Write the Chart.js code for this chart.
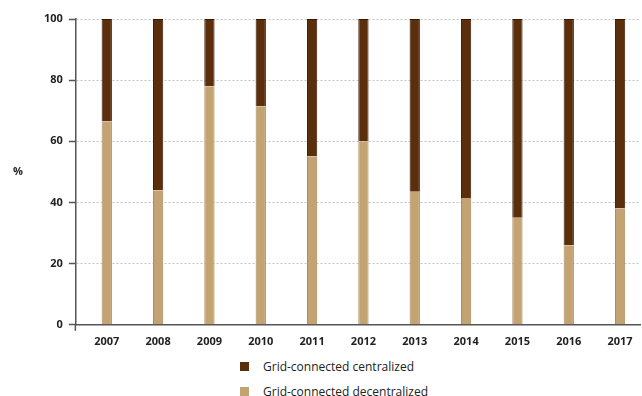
<!DOCTYPE html>
<html>
<head>
<meta charset="utf-8">
<script src="https://cdn.jsdelivr.net/npm/chart.js@4.4.0/dist/chart.umd.min.js"></script>
<style>
  html, body { margin: 0; padding: 0; background: #fff; overflow: hidden; }
  #wrap { position: relative; width: 642px; height: 396px; }
  #legend { position: absolute; left: 240px; top: 354px; font-family: "Open Sans", sans-serif; font-size: 12px; color: #222; }
  #legend div { height: 25px; display: flex; align-items: center; }
  #legend span { display: inline-block; width: 9px; height: 9px; margin-right: 14px; }
</style>
</head>
<body>
<div id="wrap">
  <canvas id="chart" width="642" height="350"></canvas>
  <div id="legend"></div>
</div>
<script>
const years = [2007, 2008, 2009, 2010, 2011, 2012, 2013, 2014, 2015, 2016, 2017];
const decentralized = [66.5, 44, 78, 71.5, 55, 60, 43.5, 41.5, 35, 26, 38];
const centralized = decentralized.map((v) => 100 - v);
const yTicks = [0, 20, 40, 60, 80, 100];

const seriesNames = ['Grid-connected centralized', 'Grid-connected decentralized'];
const seriesColors = ['#5b2e0c', '#c4a373'];

const percentLabel = {
  id: 'percentLabel',
  afterDraw(chart) {
    const { ctx, chartArea } = chart;
    ctx.save();
    ctx.font = 'bold 11px "Open Sans", sans-serif';
    ctx.fillStyle = '#222';
    ctx.textAlign = 'center';
    ctx.textBaseline = 'middle';
    ctx.fillText('%', 18, (chartArea.top + chartArea.bottom) / 2);
    // small tick below the axis corner
    ctx.strokeStyle = '#555';
    ctx.lineWidth = 1.5;
    ctx.beginPath();
    ctx.moveTo(chartArea.left - 0.5, chartArea.bottom);
    ctx.lineTo(chartArea.left - 0.5, chartArea.bottom + 6);
    ctx.stroke();
    ctx.restore();
  },
};

const ctx = document.getElementById('chart');
new Chart(ctx, {
  type: 'bar',
  data: {
    datasets: [
      {
        label: seriesNames[1],
        data: years.map((y, i) => ({ x: y, y: decentralized[i] })),
        backgroundColor: seriesColors[1],
        borderColor: '#a9865a',
        borderWidth: { left: 1, right: 1, top: 0, bottom: 0 },
        borderSkipped: false,
        barPercentage: 0.2,
        categoryPercentage: 1,
      },
      {
        label: seriesNames[0],
        data: years.map((y, i) => ({ x: y, y: centralized[i] })),
        backgroundColor: seriesColors[0],
        borderColor: '#3a1804',
        borderWidth: { left: 1, right: 1, top: 1, bottom: 0 },
        borderSkipped: false,
        barPercentage: 0.2,
        categoryPercentage: 1,
      },
    ],
  },
  options: {
    responsive: false,
    animation: false,
    layout: { padding: { left: 38, right: 2, top: 19, bottom: 0 } },
    plugins: {
      legend: { display: false },
      tooltip: { enabled: false },
    },
    scales: {
      x: {
        type: 'linear',
        stacked: true,
        offset: false,
        min: 2006.398,
        max: 2017.388,
        afterBuildTicks: (axis) => {
          axis.ticks = years.map((v) => ({ value: v }));
        },
        grid: { display: false },
        border: { color: '#555', width: 1.5 },
        ticks: {
          color: '#222',
          font: { family: 'Open Sans', size: 11, weight: 'bold' },
          padding: 2,
          autoSkip: false,
          maxRotation: 0,
          callback: (v) => String(v),
        },
      },
      y: {
        stacked: true,
        min: 0,
        max: 100,
        afterBuildTicks: (axis) => {
          axis.ticks = yTicks.map((v) => ({ value: v }));
        },
        grid: {
          color: (c) => (c.tick && c.tick.value === 0 ? 'rgba(0,0,0,0)' : '#c4c4c4'),
          tickColor: '#555',
          tickBorderDash: [],
          tickLength: 7,
          tickWidth: 1.5,
        },
        border: { color: '#555', width: 1.5, dash: [2, 2] },
        ticks: {
          color: '#222',
          font: { family: 'Open Sans', size: 11, weight: 'bold' },
          padding: 6,
        },
      },
    },
  },
  plugins: [percentLabel],
});

const legend = document.getElementById('legend');
seriesNames.forEach((name, i) => {
  const row = document.createElement('div');
  const sw = document.createElement('span');
  sw.style.background = seriesColors[i];
  row.appendChild(sw);
  row.appendChild(document.createTextNode(name));
  legend.appendChild(row);
});
</script>
</body>
</html>
